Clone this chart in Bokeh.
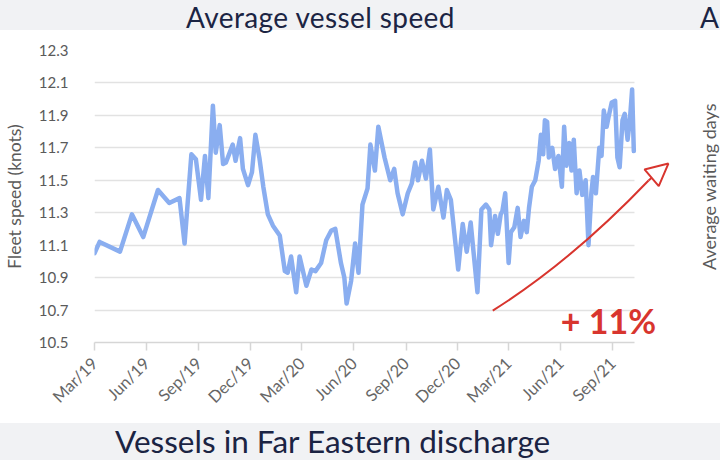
import math
import pandas as pd
from bokeh.plotting import figure
from bokeh.models import (FixedTicker, DatetimeTickFormatter, PrintfTickFormatter,
                          Range1d, Div, Label, Arrow, NormalHead, ColumnDataSource)
from bokeh.layouts import column
from bokeh.embed import file_html
from bokeh.resources import INLINE

# ---------------- data ----------------
dates = [
    "2019-03-01", "2019-03-10", "2019-04-15", "2019-05-06", "2019-05-26", "2019-06-21",
    "2019-07-11", "2019-07-29", "2019-08-07", "2019-08-19", "2019-08-27", "2019-09-05",
    "2019-09-12", "2019-09-18", "2019-09-26", "2019-10-01", "2019-10-08", "2019-10-14",
    "2019-10-19", "2019-10-31", "2019-11-05", "2019-11-13", "2019-11-18", "2019-11-27",
    "2019-12-04", "2019-12-10", "2019-12-17", "2019-12-24", "2020-01-01", "2020-01-10",
    "2020-01-22", "2020-01-31", "2020-02-05", "2020-02-11", "2020-02-20", "2020-02-26",
    "2020-03-09", "2020-03-18", "2020-03-25", "2020-04-04", "2020-04-13", "2020-04-22",
    "2020-04-29", "2020-05-09", "2020-05-15", "2020-05-19", "2020-05-27", "2020-06-03",
    "2020-06-09", "2020-06-16", "2020-06-25", "2020-06-30", "2020-07-08", "2020-07-14",
    "2020-07-25", "2020-08-04", "2020-08-11", "2020-08-17", "2020-08-26", "2020-09-04",
    "2020-09-11", "2020-09-17", "2020-09-22", "2020-09-29", "2020-10-06", "2020-10-13",
    "2020-10-19", "2020-10-28", "2020-11-06", "2020-11-12", "2020-11-19", "2020-12-02",
    "2020-12-10", "2020-12-17", "2020-12-24", "2021-01-05", "2021-01-12", "2021-01-20",
    "2021-01-26", "2021-01-29", "2021-02-05", "2021-02-10", "2021-02-15", "2021-02-18",
    "2021-02-23", "2021-03-01", "2021-03-05", "2021-03-11", "2021-03-17", "2021-03-22",
    "2021-03-28", "2021-04-02", "2021-04-06", "2021-04-11", "2021-04-17", "2021-04-23",
    "2021-04-27", "2021-05-01", "2021-05-04", "2021-05-08", "2021-05-11", "2021-05-17",
    "2021-05-22", "2021-05-28", "2021-06-03", "2021-06-07", "2021-06-11", "2021-06-16",
    "2021-06-20", "2021-06-24", "2021-06-29", "2021-07-04", "2021-07-09", "2021-07-15",
    "2021-07-20", "2021-07-25", "2021-07-28", "2021-08-02", "2021-08-08", "2021-08-12",
    "2021-08-16", "2021-08-21", "2021-08-25", "2021-08-30", "2021-09-05", "2021-09-09",
    "2021-09-13", "2021-09-18", "2021-09-22", "2021-09-27", "2021-10-01", "2021-10-05",
    "2021-10-08",
]
speed = [
    11.05, 11.12, 11.06, 11.29, 11.15, 11.44,
    11.36, 11.39, 11.11, 11.66, 11.63, 11.38,
    11.65, 11.39, 11.96, 11.67, 11.84, 11.60,
    11.61, 11.72, 11.62, 11.76, 11.57, 11.47,
    11.55, 11.78, 11.64, 11.46, 11.29, 11.22,
    11.16, 10.94, 10.93, 11.03, 10.81, 11.03,
    10.85, 10.95, 10.94, 10.99, 11.13, 11.19,
    11.20, 10.99, 10.90, 10.74, 10.88, 11.11,
    10.93, 11.35, 11.45, 11.72, 11.56, 11.83,
    11.64, 11.50, 11.57, 11.42, 11.29, 11.42,
    11.48, 11.61, 11.50, 11.62, 11.51, 11.69,
    11.32, 11.46, 11.27, 11.44, 11.38, 10.95,
    11.23, 11.06, 11.24, 10.81, 11.32, 11.35,
    11.32, 11.10, 11.28, 11.17, 11.29, 11.31,
    11.42, 10.99, 11.18, 11.21, 11.33, 11.15,
    11.25, 11.18, 11.33, 11.46, 11.50, 11.62,
    11.78, 11.66, 11.87, 11.86, 11.64, 11.70,
    11.57, 11.65, 11.46, 11.83, 11.59, 11.73,
    11.56, 11.75, 11.42, 11.56, 11.41, 11.50,
    11.10, 11.42, 11.52, 11.42, 11.70, 11.65,
    11.93, 11.83, 11.90, 11.98, 11.99, 11.64,
    11.58, 11.87, 11.91, 11.75, 11.87, 12.06,
    11.68,
]
y_ticks = [10.5, 10.7, 10.9, 11.1, 11.3, 11.5, 11.7, 11.9, 12.1, 12.3]
x_tick_dates = ["2019-03-01", "2019-06-01", "2019-09-01", "2019-12-01",
                "2020-03-01", "2020-06-01", "2020-09-01", "2020-12-01",
                "2021-03-01", "2021-06-01", "2021-09-01"]

title_text = "Average vessel speed"
next_title_text = "Vessels in Far Eastern discharge"
y_label = "Fleet speed (knots)"
side_label = "Average waiting days"
note_text = "+ 11%"


def ms(d):
    return pd.Timestamp(d).value / 1e6


FONT = "Lato"
NAVY = "#1b2443"
GREY_TXT = "#5a5a5a"
RED = "#d8352e"

axis_start, axis_end = ms("2019-03-01"), ms("2021-10-09")

src = ColumnDataSource(dict(x=pd.to_datetime(dates), y=speed))

p = figure(width=720, height=389, x_axis_type="datetime",
           x_range=Range1d(axis_start, ms("2022-03-10")),
           y_range=Range1d(10.5, 12.3),
           output_backend="svg", toolbar_location=None,
           min_border_left=93, min_border_right=0,
           min_border_top=16, min_border_bottom=81)
p.outline_line_color = None
p.background_fill_color = "white"
p.border_fill_color = "white"

p.line("x", "y", source=src, line_color="#8aaef0", line_width=4.5,
       line_join="round", line_cap="round")

# grid
p.xgrid.visible = False
p.ygrid.ticker = FixedTicker(ticks=y_ticks)
p.ygrid.grid_line_color = "#e2e2e2"
p.ygrid.grid_line_width = 1.5
p.ygrid.cross_bounds = (axis_start, axis_end)

# y axis
ya = p.yaxis[0]
ya.ticker = FixedTicker(ticks=y_ticks)
ya.formatter = PrintfTickFormatter(format="%.1f")
ya.axis_line_color = None
ya.major_tick_line_color = None
ya.minor_tick_line_color = None
ya.major_label_text_font = FONT
ya.major_label_text_font_size = "15px"
ya.major_label_text_color = GREY_TXT
ya.major_label_standoff = 20
ya.axis_label = y_label
ya.axis_label_text_font = FONT
ya.axis_label_text_font_size = "17.5px"
ya.axis_label_text_font_style = "normal"
ya.axis_label_text_color = GREY_TXT
ya.axis_label_standoff = 11

# x axis
xa = p.xaxis[0]
xa.bounds = (axis_start, axis_end)
xa.ticker = FixedTicker(ticks=[ms(d) for d in x_tick_dates])
fmt = "%b/%y"
xa.formatter = DatetimeTickFormatter(milliseconds=fmt, seconds=fmt, minsec=fmt, minutes=fmt,
                                     hourmin=fmt, hours=fmt, days=fmt, months=fmt, years=fmt)
xa.major_label_orientation = math.pi / 4
xa.major_label_text_font = FONT
xa.major_label_text_font_size = "16.5px"
xa.major_label_text_color = "#666666"
xa.major_label_standoff = 10
xa.axis_line_color = "#d6d6d6"
xa.axis_line_width = 1.5
xa.major_tick_line_color = "#d6d6d6"
xa.major_tick_line_width = 1.5
xa.major_tick_out = 8
xa.major_tick_in = 0
xa.minor_tick_line_color = None

# red hand-drawn annotation: curved stroke + hollow arrow head
p.quadratic(x0=[ms("2021-02-01")], y0=[10.697],
            x1=[ms("2021-11-03")], y1=[11.499],
            cx=[ms("2021-06-19")], cy=[10.999],
            line_color=RED, line_width=2)
p.add_layout(Arrow(end=NormalHead(size=22, fill_color="white", line_color=RED, line_width=2),
                   x_start=ms("2021-11-03"), y_start=11.499,
                   x_end=ms("2021-12-08"), y_end=11.603,
                   line_color=RED, line_width=2))
p.add_layout(Label(x=ms("2021-06-01"), y=10.637, text=note_text, text_baseline="middle",
                   text_font=FONT, text_font_size="34px", text_font_style="bold",
                   text_color=RED))
p.add_layout(Label(x=ms("2022-02-17"), y=11.461, text=side_label, angle=math.pi / 2,
                   text_align="center", text_baseline="middle",
                   text_font=FONT, text_font_size="18px", text_color=GREY_TXT))

top = Div(width=720, height=34, margin=(0, 0, 0, 0), text=(
    f'<div style="position:relative;width:720px;height:30px;background:#f1f2f4;'
    f'font-family:{FONT};color:{NAVY};font-size:28px;line-height:30px;white-space:nowrap;">'
    f'<span style="position:absolute;left:186px;top:2px;letter-spacing:0.4px;">{title_text}</span>'
    f'<span style="position:absolute;left:700px;top:2px;">A</span></div>'))
bottom = Div(width=720, height=43, margin=(0, 0, 0, 0), text=(
    f'<div style="position:relative;width:720px;height:37px;background:#f1f2f4;'
    f'font-family:{FONT};color:{NAVY};font-size:31.5px;line-height:37px;white-space:nowrap;">'
    f'<span style="position:absolute;left:115px;top:0px;">{next_title_text}</span></div>'))

layout = column(top, p, bottom, spacing=0,
                styles={"position": "absolute", "left": "0px", "top": "0px"})

open("out.html", "w").write(file_html(layout, INLINE))
